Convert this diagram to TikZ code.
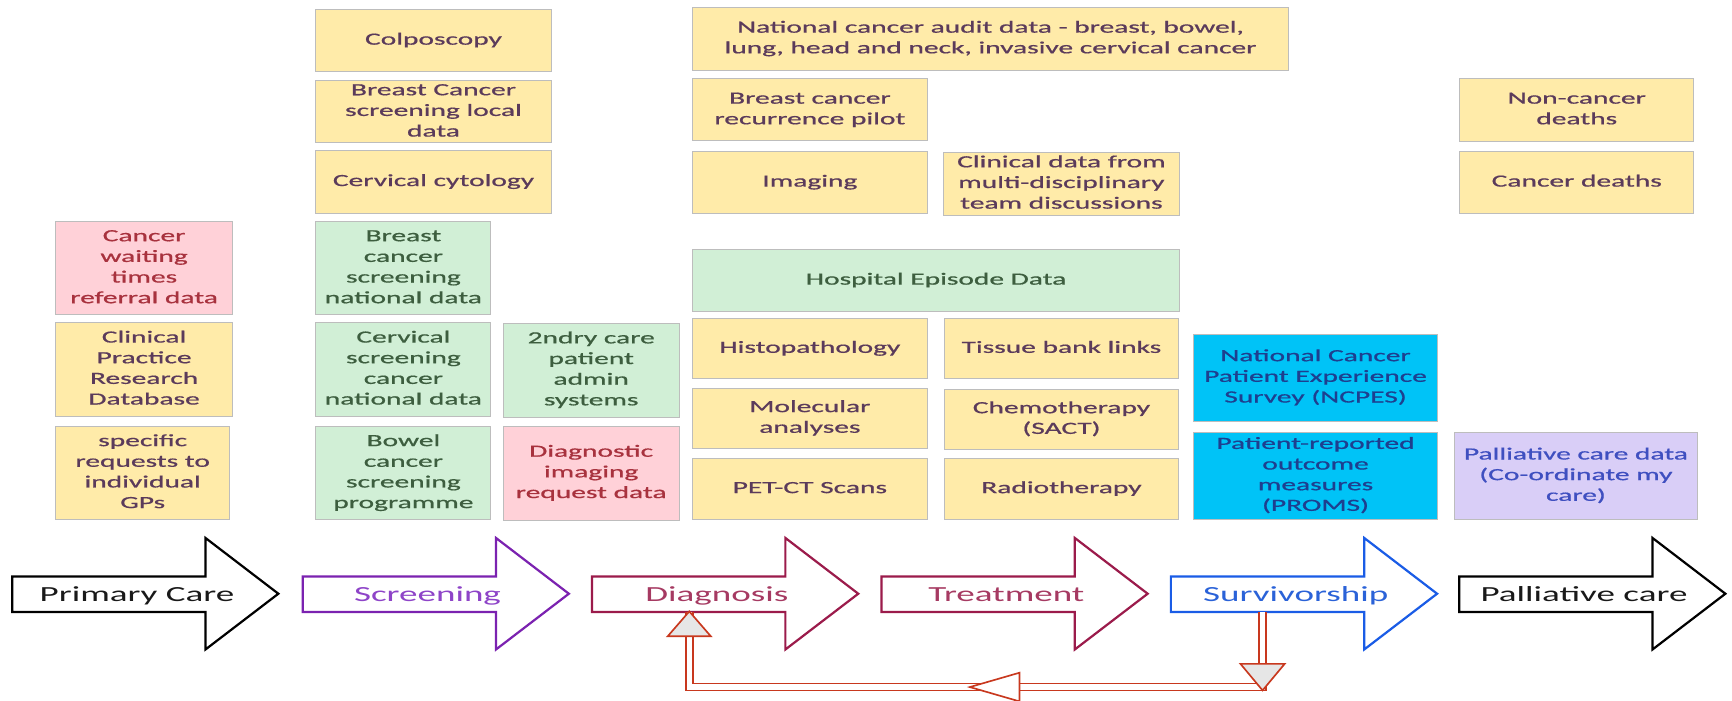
\documentclass[tikz,border=0pt]{standalone}
\usepackage{fontspec}
\setmainfont{Carlito}
\newfontfamily\boxfont{Carlito}[FakeBold=0.6]
\usepackage{graphicx}
\usetikzlibrary{calc}
\definecolor{ylwF}{HTML}{FFEBA9}
\definecolor{ylwT}{HTML}{5B3B5B}
\definecolor{pnkF}{HTML}{FFD1D8}
\definecolor{pnkT}{HTML}{A8323E}
\definecolor{grnF}{HTML}{D1EFD6}
\definecolor{grnT}{HTML}{3D5E3F}
\definecolor{cynF}{HTML}{00C3F7}
\definecolor{cynT}{HTML}{1E3F8F}
\definecolor{lavF}{HTML}{D9CEF7}
\definecolor{lavT}{HTML}{3F4FC0}
\definecolor{boxB}{HTML}{BDBDBD}
\definecolor{scrC}{HTML}{7B22B0}
\definecolor{scrT}{HTML}{8E44C8}
\definecolor{diaC}{HTML}{9B1B4B}
\definecolor{diaT}{HTML}{A63A62}
\definecolor{surC}{HTML}{1A5CE6}
\definecolor{surT}{HTML}{2A62D8}
\definecolor{fbR}{HTML}{C8381E}
\definecolor{headG}{HTML}{E6E6E6}
\newcommand\stx[1]{\scalebox{1.72}[1]{\begin{tabular}{@{}c@{}}#1\end{tabular}}}
\newcommand\dbox[7]{\node[databox,#6,anchor=north west,minimum width={(#4-#2)*1pt},minimum height={(#5-#3)*1pt}] (#1) at (#2,#3) {\stx{#7}};}
\newcommand\stage[5]{%
  \draw[stagearrow,draw=#3] (#2,522) -- ({#2+175},522) -- ({#2+175},487) -- ({#2+241},537.5) -- ({#2+175},588) -- ({#2+175},554) -- (#2,554) -- cycle;
  \node[stagelabel,text=#4] (#1) at ({#2+113},545) {\stx{#5}};}
\tikzset{
  databox/.style={draw=boxB,line width=0.9pt,inner sep=0pt,font=\boxfont\fontsize{15.5}{18.7}\selectfont},
  ylw/.style={fill=ylwF,text=ylwT},
  pnk/.style={fill=pnkF,text=pnkT},
  grn/.style={fill=grnF,text=grnT},
  cyn/.style={fill=cynF,text=cynT},
  lav/.style={fill=lavF,text=lavT},
  stagearrow/.style={line width=2pt,fill=white,line join=miter},
  stagelabel/.style={anchor=base,inner sep=0pt,font=\fontsize{19.5}{23}\selectfont},
  fbline/.style={draw=fbR,line width=1.5pt,double=white,double distance=5pt,line join=miter},
  fbhead/.style={draw=fbR,line width=1.5pt,line join=miter}
}
\begin{document}
\begin{tikzpicture}[x=1pt,y=-1pt]
\useasboundingbox (0,0) rectangle (1568,634);
% Primary care column
\dbox{cwt}{50}{200}{210}{284.5}{pnk}{Cancer\\waiting\\times\\referral data}
\dbox{cprd}{50}{291.5}{210}{376.5}{ylw}{Clinical\\Practice\\Research\\Database}
\dbox{gps}{50}{385.5}{207.5}{470}{ylw}{specific\\requests to\\individual\\GPs}
% Screening column
\dbox{colp}{285.5}{8}{498.5}{64.5}{ylw}{Colposcopy}
\dbox{bcsl}{285.5}{72.5}{498.5}{129}{ylw}{Breast Cancer\\screening local\\data}
\dbox{cyto}{285.5}{136}{498.5}{192.5}{ylw}{Cervical cytology}
\dbox{bcsn}{285.5}{200}{444}{284.5}{grn}{Breast\\cancer\\screening\\national data}
\dbox{ccsn}{285.5}{291.5}{444}{376.5}{grn}{Cervical\\screening\\cancer\\national data}
\dbox{bowel}{285.5}{385.5}{444}{470}{grn}{Bowel\\cancer\\screening\\programme}
\dbox{admin}{455}{292}{614.5}{377.5}{grn}{2ndry care\\patient\\admin\\systems}
\dbox{dird}{455}{385.5}{614.5}{470.5}{pnk}{Diagnostic\\imaging\\request data}
% Diagnosis / treatment
\dbox{audit}{626.5}{6.5}{1166}{63}{ylw}{National cancer audit data - breast, bowel,\\lung, head and neck, invasive cervical cancer}
\dbox{recur}{626.5}{71}{839}{127}{ylw}{Breast cancer\\recurrence pilot}
\dbox{imag}{626.5}{136.5}{839}{193}{ylw}{Imaging}
\dbox{mdt}{853.5}{137.5}{1067.5}{194.5}{ylw}{Clinical data from\\multi-disciplinary\\team discussions}
\dbox{hes}{626.5}{225.5}{1067.5}{281.5}{grn}{Hospital Episode Data}
\dbox{histo}{626.5}{288}{839}{342.5}{ylw}{Histopathology}
\dbox{tissue}{854.5}{288}{1066.5}{342.5}{ylw}{Tissue bank links}
\dbox{molec}{626.5}{351}{839}{405.5}{ylw}{Molecular\\analyses}
\dbox{chemo}{854.5}{352}{1066.5}{406.5}{ylw}{Chemotherapy\\(SACT)}
\dbox{pet}{626.5}{414.5}{839}{470}{ylw}{PET-CT Scans}
\dbox{radio}{854.5}{414.5}{1066.5}{470}{ylw}{Radiotherapy}
% Survivorship / palliative
\dbox{ncpes}{1080}{302}{1301}{381}{cyn}{National Cancer\\Patient Experience\\Survey (NCPES)}
\dbox{proms}{1080}{391}{1301}{469.5}{cyn}{Patient-reported\\outcome\\measures\\(PROMS)}
\dbox{pcd}{1316.5}{391}{1536}{470}{lav}{Palliative care data\\(Co-ordinate my\\care)}
\dbox{noncd}{1321}{70.5}{1533}{127.5}{ylw}{Non-cancer\\deaths}
\dbox{cd}{1321}{136.5}{1533}{193}{ylw}{Cancer deaths}
% Stage arrows
\stage{pc}{11}{black}{black!90}{Primary Care}
\stage{scr}{274}{scrC}{scrT}{Screening}
\stage{dia}{536}{diaC}{diaT}{Diagnosis}
\stage{trt}{798}{diaC}{diaT}{Treatment}
\stage{sur}{1060}{surC}{surT}{Survivorship}
\stage{pal}{1321}{black}{black!90}{Palliative care}
% Feedback connector Survivorship -> Diagnosis
\coordinate (survOut) at (1143,554);
\coordinate (diagIn) at (624,554);
\coordinate (fbrow) at (0,622);
\draw[fbline] (survOut) -- (survOut |- fbrow) -- (diagIn |- fbrow) -- (diagIn);
\draw[fbhead,fill=headG] ($(survOut)+(-20,47)$) -- ($(survOut)+(20,47)$) -- ($(survOut |- fbrow)+(0,3)$) -- cycle;
\draw[fbhead,fill=headG] ($(diagIn)+(-19.5,22)$) -- ($(diagIn)+(19.5,22)$) -- ($(diagIn)+(0,-0.5)$) -- cycle;
\draw[fbhead,fill=white] (878,622) -- (923,609) -- (923,635) -- cycle;
\end{tikzpicture}
\end{document}
